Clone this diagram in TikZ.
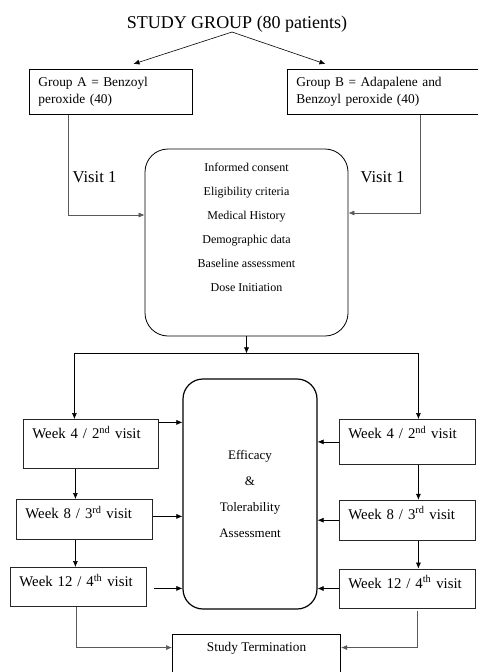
\documentclass[tikz,border=0pt]{standalone}
\usepackage{fontspec}
\setmainfont{Liberation Serif}
\usetikzlibrary{arrows.meta, positioning}
\tikzset{
  grpbox/.style   = {rectangle, draw, line width=0.9pt, anchor=north west,
                     inner xsep=9pt, minimum height=45pt, align=left,
                     font=\fontsize{13.4}{17}\selectfont},
  roundbox/.style = {rectangle, draw, inner sep=0pt, align=center},
  visitbox/.style = {rectangle, draw=black!85, line width=0.8pt, anchor=north west,
                     inner xsep=9pt, inner ysep=7pt, text height=12pt,
                     align=left, text width=118pt,
                     font=\fontsize{14.8}{18}\selectfont},
  termbox/.style  = {rectangle, draw, line width=1.1pt, anchor=north west,
                     minimum width=168pt, inner ysep=7pt, text height=10pt,
                     text depth=60pt, align=center,
                     font=\fontsize{13.3}{16}\selectfont},
  arrow/.style    = {-{Latex[length=6pt,width=5pt]}, line width=0.6pt},
  link/.style     = {arrow, draw=gray!70!black},
}

\begin{document}
\begin{tikzpicture}[x=1pt, y=-1pt]
  \useasboundingbox (0,0) rectangle (478,672);
  \clip (0,0) rectangle (478,672);

  \node[anchor=base, inner sep=0pt, font=\fontsize{18}{20}\selectfont] (title)
        at (237,28) {STUDY GROUP (80 patients)};
  \node[grpbox, text width=145pt] (grpA) at (29,69)
        {Group A = Benzoyl\\peroxide (40)};
  \node[grpbox, text width=173pt] (grpB) at (287,69)
        {Group B = Adapalene and\\Benzoyl peroxide (40)};

  \node[roundbox, rounded corners=23pt, line width=0.8pt,
        minimum width=203pt, minimum height=187pt,
        font=\fontsize{12}{24}\selectfont] (consent) at (246.5,242.5)
        {Informed consent\\Eligibility criteria\\Medical History\\
         Demographic data\\Baseline assessment\\Dose Initiation\\\strut};
  \node[font=\fontsize{16.6}{18}\selectfont] (visA) at (94.5,177) {Visit 1};
  \node[font=\fontsize{16.6}{18}\selectfont] (visB) at (382.5,177) {Visit 1};

  \node[roundbox, rounded corners=20pt, line width=1.2pt,
        minimum width=134pt, minimum height=230pt,
        font=\fontsize{13}{25.7}\selectfont] (effic) at (250,494)
        {Efficacy\\\&\\Tolerability\\Assessment};

  % left arm
  \node[visitbox, text width=117pt, text depth=23pt] (w4l) at (23,419)
        {Week 4 / 2\textsuperscript{nd} visit};
  \node[visitbox, text depth=14pt] (w8l) at (16,499)
        {Week 8 / 3\textsuperscript{rd} visit};
  \node[visitbox, text depth=13pt] (w12l) at (10,567)
        {Week 12 / 4\textsuperscript{th} visit};

  % right arm
  \node[visitbox, text depth=19pt] (w4r) at (339,419)
        {Week 4 / 2\textsuperscript{nd} visit};
  \node[visitbox, text depth=14pt, below=35pt of w4r] (w8r)
        {Week 8 / 3\textsuperscript{rd} visit};
  \node[visitbox, text depth=13pt, below=28pt of w8r] (w12r)
        {Week 12 / 4\textsuperscript{th} visit};

  \node[termbox] (term) at (172,634) {Study Termination};

  \draw[arrow] ([xshift=-5pt]title.south) -- ([xshift=22.5pt,yshift=5pt]grpA.north);
  \draw[arrow] ([xshift=-5pt]title.south) -- ([xshift=-57.5pt,yshift=5pt]grpB.north);
  \draw[link] ([xshift=-42.5pt]grpA.south) |- ([yshift=27.5pt]consent.west);
  \draw[link] ([xshift=37.5pt]grpB.south) |- ([yshift=29.5pt]consent.east);

  \coordinate (fork) at ([yshift=-17pt]consent.south);
  \draw[arrow] (consent) -- (fork);
  \draw[arrow] (fork) -| ([xshift=-16.5pt]w4l.north);
  \draw[arrow] (fork) -| ([xshift=11pt]w4r.north);

  \draw[arrow] ([xshift=-15.5pt]w4l.south) -- ([xshift=-15.5pt]w4l.south |- w8l.north);
  \draw[arrow] ([xshift=-9pt]w8l.south) -- ([xshift=-9pt]w8l.south |- w12l.north);
  \draw[arrow] ([xshift=11pt]w4r.south) -- ([xshift=11pt]w4r.south |- w8r.north);
  \draw[arrow] ([xshift=11pt]w8r.south) -- ([xshift=11pt]w8r.south |- w12r.north);

  \draw[arrow] ([yshift=21.5pt]w4l.east) -- ([yshift=21.5pt]w4l.east -| effic.west);
  \draw[arrow] ([yshift=3pt]w8l.east) -- ([yshift=3pt]w8l.east -| effic.west);
  \draw[arrow, shorten <=7pt] ([yshift=-1.5pt]w12l.east) -- ([yshift=-1.5pt]w12l.east -| effic.west);
  \draw[arrow] (w4r.west) -- (w4r.west -| effic.east);
  \draw[arrow] (w8r.west) -- (w8r.west -| effic.east);
  \draw[arrow] (w12r.west) -- (w12r.west -| effic.east);

  \draw[link] ([xshift=-2pt]w12l.south) |- ([yshift=29pt]term.west);
  \draw[link, shorten <=3pt] ([xshift=10pt]w12r.south) |- ([yshift=29pt]term.east);
\end{tikzpicture}
\end{document}
